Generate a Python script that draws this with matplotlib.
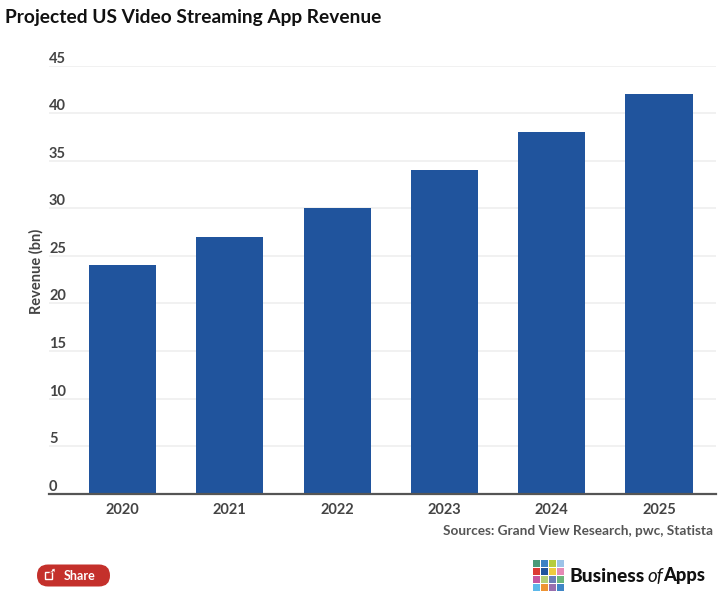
import matplotlib
matplotlib.use("Agg")
import matplotlib.pyplot as plt
from matplotlib.patches import FancyBboxPatch, Rectangle, Polygon

years = ["2020", "2021", "2022", "2023", "2024", "2025"]
revenue = [24, 27, 30, 34, 38, 42]
y_ticks = [0, 5, 10, 15, 20, 25, 30, 35, 40, 45]

logo_colors = [
    ["#4a9a78", "#3b82c4", "#b5cc3e", "#9cc3e8"],
    ["#dc3a34", "#20549d", "#efcb3f", "#e58ab5"],
    ["#c4569f", "#b3cf74", "#6b7fb8", "#6cb67a"],
    ["#5cb8ea", "#ee9433", "#9a6fae", "#3f86c6"],
]

W, H = 727, 611
plt.rcParams["font.family"] = ["Lato", "DejaVu Sans"]
fig = plt.figure(figsize=(W / 100, H / 100), dpi=100)

# plot area, in pixels from the reference
left, right, top, bottom = 49, 716, 65.6, 493.7
ax = fig.add_axes([left / W, 1 - bottom / H, (right - left) / W, (bottom - top) / H])

ax.bar(years, revenue, width=0.625, color="#20549d", zorder=3)
ax.set_xlim(-0.685, 5.531)
ax.set_ylim(0, 45)

ax.set_yticks(y_ticks)
ax.grid(axis="y", color="#eeeeee", linewidth=1.1, zorder=0)
ax.set_axisbelow(True)
for name in ["top", "left", "right"]:
    ax.spines[name].set_visible(False)
ax.spines["bottom"].set_color("#555555")
ax.spines["bottom"].set_linewidth(1.6)
ax.spines["bottom"].set_zorder(5)

ax.tick_params(axis="x", length=0, pad=7, labelsize=10.5, labelcolor="#444444")
ax.tick_params(axis="y", length=0, pad=0, labelsize=10.5, labelcolor="#444444")
for lab in ax.get_xticklabels():
    lab.set_fontweight("bold")
for lab in ax.get_yticklabels():
    lab.set_horizontalalignment("left")
    lab.set_verticalalignment("bottom")
    lab.set_fontweight("bold")

# page furniture, drawn in pixel coordinates
page = fig.add_axes([0, 0, 1, 1], zorder=10)
page.set_xlim(0, W)
page.set_ylim(H, 0)
page.axis("off")

page.text(5, 17, "Projected US Video Streaming App Revenue", fontsize=13.8,
          fontweight="bold", color="#111111", va="center", ha="left")
page.text(36, 271, "Revenue (bn)", fontsize=10.5, fontweight="bold", color="#444444",
          rotation=90, va="center", ha="center")
page.text(713, 531, "Sources: Grand View Research, pwc, Statista", fontsize=9.8,
          fontweight="bold", color="#555555", va="center", ha="right")

# share button
page.add_patch(FancyBboxPatch((37, 564.5), 73, 22, boxstyle="round,pad=0,rounding_size=11",
                              facecolor="#c4302b", edgecolor="none"))
page.add_patch(Rectangle((44.5, 571.5), 7, 7, fill=False, edgecolor="white", linewidth=1))
page.add_patch(Polygon([(49, 574), (52, 570), (50, 569.5), (55, 568.5), (55, 573), (53.5, 571.5)],
                       facecolor="white", edgecolor="#c4302b", linewidth=0.5))
page.text(63.5, 575.5, "Share", fontsize=9, fontweight="bold", color="white",
          va="center", ha="left")

# logo
for r, row in enumerate(logo_colors):
    for c, col in enumerate(row):
        page.add_patch(Rectangle((533 + c * 7.9, 559.5 + r * 8), 7.4, 7.5, facecolor=col, edgecolor="none"))
page.text(569.5, 576, "Business", fontsize=13.8, fontweight="black", color="#111111",
          va="center", ha="left")
page.text(647, 576, "of", fontsize=13.5, style="italic", color="#111111", va="center", ha="left")
page.text(663, 576, "Apps", fontsize=13.2, fontweight="black", color="#111111",
          va="center", ha="left")

fig.savefig("out.png", dpi=100)
